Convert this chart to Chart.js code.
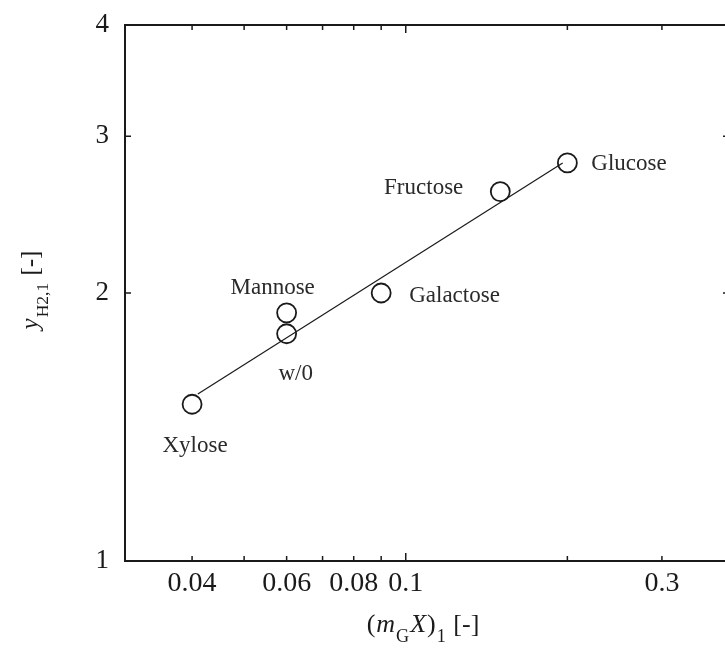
<!DOCTYPE html>
<html>
<head>
<meta charset="utf-8">
<script src="https://cdn.jsdelivr.net/npm/chart.js@4.4.1/dist/chart.umd.min.js"></script>
<style>
  body { margin: 0; background: #fff; overflow: hidden; }
</style>
</head>
<body>
<canvas id="graph" width="735" height="648"></canvas>
<script>
// values (log-log axes)
var sugars = ["Xylose", "Mannose", "w/0", "Galactose", "Fructose", "Glucose"];
var mgX = [0.040, 0.060, 0.060, 0.090, 0.150, 0.200];
var yH2 = [1.50, 1.90, 1.80, 2.00, 2.60, 2.80];

// fitted line end points
var fitX = [0.041, 0.196];
var fitY = [1.54, 2.80];

var xTicks = [0.04, 0.05, 0.06, 0.07, 0.08, 0.09, 0.1, 0.2, 0.3];
var xTickLabels = ["0.04", "", "0.06", "", "0.08", "", "0.1", "", "0.3"];
var yTicks = [1, 2, 3, 4];
var yTickLabels = ["1", "2", "3", "4"];

// where each sugar name sits relative to its circle
var labelPlace = [
    { dx: 3, dy: 42, align: "center" },
    { dx: -14, dy: -25, align: "center" },
    { dx: 9, dy: 40, align: "center" },
    { dx: 28, dy: 3, align: "left" },
    { dx: -37, dy: -4, align: "right" },
    { dx: 24, dy: 1, align: "left" }
];

var serif = "'Liberation Serif', 'Times New Roman', serif";
var ink = "#1a1a1a";

function richText(ctx, parts, x, y, size) {
    // parts: [text, italic, sub]
    var w = 0;
    parts.forEach(function (p) {
        ctx.font = (p[1] ? "italic " : "") + (p[2] ? size * 0.7 : size) + "px " + serif;
        w += ctx.measureText(p[0]).width;
    });
    var cx = x - w / 2;
    parts.forEach(function (p) {
        ctx.font = (p[1] ? "italic " : "") + (p[2] ? size * 0.7 : size) + "px " + serif;
        ctx.fillText(p[0], cx, y + (p[2] ? size * 0.4 : 0));
        cx += ctx.measureText(p[0]).width + 1;
    });
}

var decor = {
    id: "decor",
    afterDatasetsDraw: function (chart) {
        var ctx = chart.ctx;
        var a = chart.chartArea;
        var xs = chart.scales.x, ys = chart.scales.y;
        ctx.save();
        ctx.strokeStyle = ink;
        ctx.lineWidth = 2;
        ctx.strokeRect(a.left, a.top, a.right - a.left, a.bottom - a.top);

        // inward ticks on all four sides
        ctx.lineWidth = 1.5;
        ctx.beginPath();
        xTicks.forEach(function (v) {
            var px = xs.getPixelForValue(v);
            var len = v === 0.1 ? 8 : 5;
            ctx.moveTo(px, a.bottom); ctx.lineTo(px, a.bottom - len);
            ctx.moveTo(px, a.top); ctx.lineTo(px, a.top + len);
        });
        yTicks.forEach(function (v) {
            var py = ys.getPixelForValue(v);
            ctx.moveTo(a.left, py); ctx.lineTo(a.left + 6, py);
            ctx.moveTo(a.right, py); ctx.lineTo(a.right - 6, py);
        });
        ctx.stroke();

        // sugar names
        ctx.fillStyle = "#2a2a2a";
        ctx.font = "23px " + serif;
        ctx.textBaseline = "middle";
        var pts = chart.getDatasetMeta(1).data;
        pts.forEach(function (pt, i) {
            var lp = labelPlace[i];
            ctx.textAlign = lp.align;
            ctx.fillText(sugars[i], pt.x + lp.dx, pt.y + lp.dy);
        });

        // axis titles
        ctx.fillStyle = ink;
        ctx.textAlign = "left";
        ctx.textBaseline = "alphabetic";
        richText(ctx, [["(", false, false], ["m", true, false], ["G", false, true],
            ["X", true, false], [")", false, false], ["1", false, true], [" [-]", false, false]],
            420, 632, 26);
        ctx.translate(38, 291);
        ctx.rotate(-Math.PI / 2);
        richText(ctx, [["y", true, false], ["H2,1", false, true], [" [-]", false, false]], 0, 0, 25);
        ctx.restore();
    }
};

var ctx = document.getElementById("graph").getContext("2d");

var graph = new Chart(ctx, {
    type: "scatter",
    data: {
        datasets: [{
            type: "line",
            label: "fit",
            data: fitX.map(function (x, i) { return { x: x, y: fitY[i] }; }),
            borderColor: ink,
            borderWidth: 1.2,
            pointRadius: 0,
            fill: false
        }, {
            label: "sugars",
            data: mgX.map(function (x, i) { return { x: x, y: yH2[i] }; }),
            pointRadius: 9.5,
            pointBorderWidth: 1.8,
            pointBorderColor: ink,
            pointBackgroundColor: "rgba(0,0,0,0)"
        }]
    },
    options: {
        responsive: false,
        animation: false,
        layout: { autoPadding: false, padding: { top: 25, right: 6, left: 0, bottom: 0 } },
        plugins: { legend: { display: false }, tooltip: { enabled: false } },
        scales: {
            x: {
                type: "logarithmic",
                min: 0.03,
                max: 0.4,
                grid: { display: false, drawTicks: false },
                border: { display: false },
                afterBuildTicks: function (s) { s.ticks = xTicks.map(function (v) { return { value: v }; }); },
                afterFit: function (s) { s.height = 87; s.paddingLeft = 0; s.paddingRight = 0; },
                ticks: {
                    autoSkip: false,
                    maxRotation: 0,
                    padding: 6,
                    color: ink,
                    font: { family: serif, size: 28 },
                    callback: function (v) { return xTickLabels[xTicks.indexOf(v)] || ""; }
                }
            },
            y: {
                type: "logarithmic",
                min: 1,
                max: 4,
                grid: { display: false, drawTicks: false },
                border: { display: false },
                afterBuildTicks: function (s) { s.ticks = yTicks.map(function (v) { return { value: v }; }); },
                afterFit: function (s) { s.width = 125; s.paddingTop = 0; s.paddingBottom = 0; },
                ticks: {
                    autoSkip: false,
                    padding: 16,
                    color: ink,
                    font: { family: serif, size: 27 },
                    callback: function (v) { return yTickLabels[yTicks.indexOf(v)] || ""; }
                }
            }
        }
    },
    plugins: [decor]
});
</script>
</body>
</html>
